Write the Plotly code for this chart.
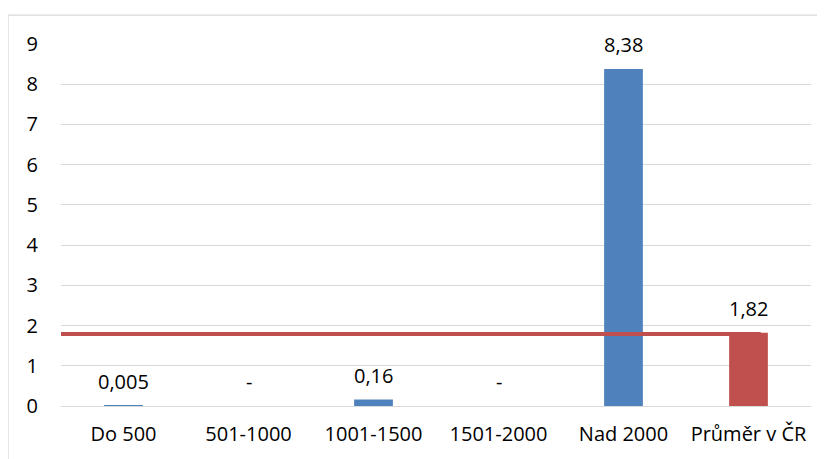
import plotly.graph_objects as go

categories = ["Do 500", "501-1000", "1001-1500", "1501-2000", "Nad 2000", "Průměr v ČR"]
values = [0.005, 0, 0.16, 0, 8.38, 1.82]
labels = ["0,005", "-", "0,16", "-", "8,38", "1,82"]
bar_colors = ["#4F81BD", "#4F81BD", "#4F81BD", "#4F81BD", "#4F81BD", "#C0504D"]
average_line = 1.79
y_ticks = [0, 1, 2, 3, 4, 5, 6, 7, 8, 9]

FONT = "Open Sans"

fig = go.Figure()
fig.add_trace(go.Bar(
    x=categories,
    y=values,
    marker=dict(color=bar_colors, line=dict(width=0)),
    width=0.31,
    showlegend=False,
    hoverinfo="skip",
))

for c, v, t in zip(categories, values, labels):
    fig.add_annotation(
        x=c, y=v, text=t, showarrow=False,
        xref="x", yref="y", yanchor="bottom", yshift=9,
        font=dict(family=FONT, size=20, color="#000000"),
    )

# average line
fig.add_shape(
    type="line", xref="paper", yref="y",
    x0=0, x1=0.933, y0=average_line, y1=average_line,
    line=dict(color="#C0504D", width=4),
    layer="above",
)

# outer chart border
fig.add_shape(
    type="rect", xref="paper", yref="paper",
    x0=-0.0707, x1=1.2, y0=-0.3, y1=1.080,
    line=dict(color="#D9D9D9", width=1.3),
    fillcolor="rgba(0,0,0,0)",
    layer="below",
)

fig.update_layout(
    width=825, height=459,
    margin=dict(l=53, r=22, t=36, b=61),
    paper_bgcolor="white",
    plot_bgcolor="white",
    font=dict(family=FONT, size=20, color="#000000"),
    bargap=0.69,
)
fig.update_xaxes(
    type="category",
    showgrid=False, zeroline=False, showline=False,
    ticks="", ticklabelstandoff=14,
    tickfont=dict(family=FONT, size=20, color="#000000"),
)
fig.update_yaxes(
    range=[0, 9],
    tickvals=y_ticks,
    showgrid=True, gridcolor="#D9D9D9", gridwidth=1.3,
    zeroline=True, zerolinecolor="#D9D9D9", zerolinewidth=1.3,
    showline=False, ticks="", ticklabelstandoff=22,
    tickfont=dict(family=FONT, size=20, color="#000000"),
)

fig.write_html("out.html")
